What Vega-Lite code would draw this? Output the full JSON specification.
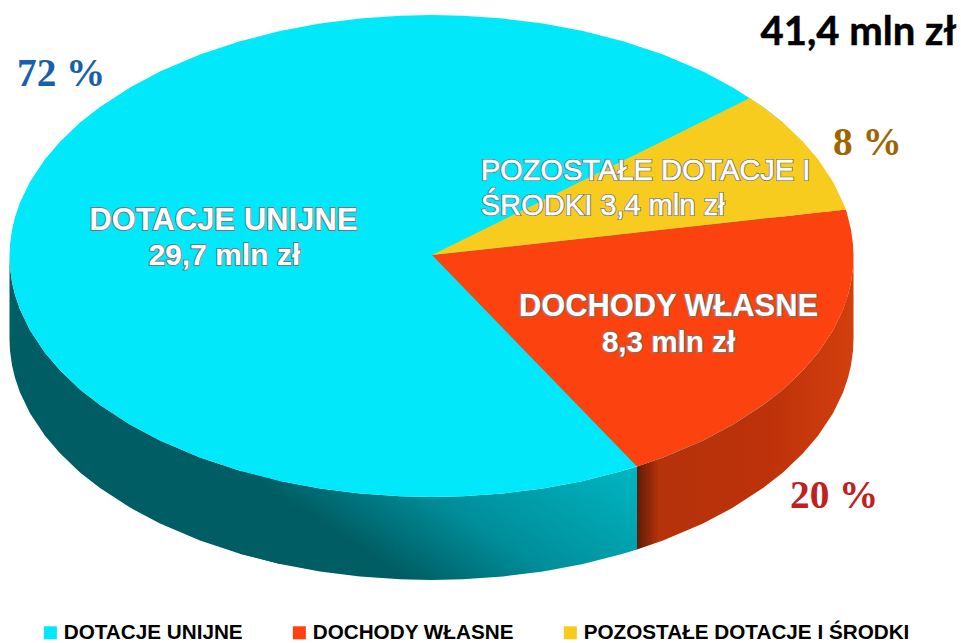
{
"$schema":"https://vega.github.io/schema/vega-lite/v6.json",
"width":961,"height":643,"padding":0,
"autosize":{"type":"fit","contains":"padding"},
"background":"white",
"config":{"view":{"stroke":null}},
"datasets":{
"wall_c1":[{"x":9.5,"y":256,"y2":339},{"x":10,"y":267.7,"y2":350.7},{"x":12,"y":282.2,"y2":365.2},{"x":15,"y":294.8,"y2":377.8},{"x":20,"y":309.4,"y2":392.4},{"x":30,"y":330.2,"y2":413.2},{"x":45,"y":352.8,"y2":435.8},{"x":60,"y":370.3,"y2":453.3},{"x":80,"y":389.4,"y2":472.4},{"x":100,"y":405.1,"y2":488.1},{"x":130,"y":424.6,"y2":507.6},{"x":160,"y":440.5,"y2":523.5},{"x":200,"y":457.5,"y2":540.5},{"x":240,"y":470.8,"y2":553.8},{"x":280,"y":480.9,"y2":563.9}],
"wall_c2":[{"x":240,"y":470.8,"y2":553.8},{"x":280,"y":480.9,"y2":563.9},{"x":320,"y":488.4,"y2":571.4},{"x":360,"y":493.5,"y2":576.5},{"x":400,"y":496.3,"y2":579.3},{"x":431.5,"y":497,"y2":580},{"x":463,"y":496.3,"y2":579.3},{"x":503,"y":493.5,"y2":576.5},{"x":543,"y":488.4,"y2":571.4},{"x":583,"y":480.9,"y2":563.9},{"x":623,"y":470.8,"y2":553.8},{"x":637,"y":466.5,"y2":549.5}],
"wall_r":[{"x":637,"y":466.5,"y2":549.5},{"x":663,"y":457.5,"y2":540.5},{"x":703,"y":440.5,"y2":523.5},{"x":733,"y":424.6,"y2":507.6},{"x":763,"y":405.1,"y2":488.1},{"x":783,"y":389.4,"y2":472.4},{"x":803,"y":370.3,"y2":453.3},{"x":818,"y":352.8,"y2":435.8},{"x":833,"y":330.2,"y2":413.2},{"x":843,"y":309.4,"y2":392.4},{"x":848,"y":294.8,"y2":377.8},{"x":851,"y":282.2,"y2":365.2},{"x":853,"y":267.7,"y2":350.7},{"x":853.5,"y":256,"y2":339}],
"top_c":[{"s":"DOTACJE UNIJNE","x":9.5,"y":256,"y2":256},{"s":"DOTACJE UNIJNE","x":10,"y":244.3,"y2":267.7},{"s":"DOTACJE UNIJNE","x":12,"y":229.8,"y2":282.2},{"s":"DOTACJE UNIJNE","x":15,"y":217.2,"y2":294.8},{"s":"DOTACJE UNIJNE","x":20,"y":202.6,"y2":309.4},{"s":"DOTACJE UNIJNE","x":30,"y":181.8,"y2":330.2},{"s":"DOTACJE UNIJNE","x":45,"y":159.2,"y2":352.8},{"s":"DOTACJE UNIJNE","x":60,"y":141.7,"y2":370.3},{"s":"DOTACJE UNIJNE","x":80,"y":122.6,"y2":389.4},{"s":"DOTACJE UNIJNE","x":100,"y":106.9,"y2":405.1},{"s":"DOTACJE UNIJNE","x":130,"y":87.4,"y2":424.6},{"s":"DOTACJE UNIJNE","x":160,"y":71.5,"y2":440.5},{"s":"DOTACJE UNIJNE","x":200,"y":54.5,"y2":457.5},{"s":"DOTACJE UNIJNE","x":240,"y":41.2,"y2":470.8},{"s":"DOTACJE UNIJNE","x":280,"y":31.1,"y2":480.9},{"s":"DOTACJE UNIJNE","x":320,"y":23.6,"y2":488.4},{"s":"DOTACJE UNIJNE","x":360,"y":18.5,"y2":493.5},{"s":"DOTACJE UNIJNE","x":400,"y":15.7,"y2":496.3},{"s":"DOTACJE UNIJNE","x":431.5,"y":15,"y2":497},{"s":"DOTACJE UNIJNE","x":463,"y":15.7,"y2":496.3},{"s":"DOTACJE UNIJNE","x":503,"y":18.5,"y2":493.5},{"s":"DOTACJE UNIJNE","x":543,"y":23.6,"y2":488.4},{"s":"DOTACJE UNIJNE","x":583,"y":31.1,"y2":480.9},{"s":"DOTACJE UNIJNE","x":623,"y":41.2,"y2":470.8},{"s":"DOTACJE UNIJNE","x":663,"y":54.5,"y2":457.5},{"s":"DOTACJE UNIJNE","x":703,"y":71.5,"y2":440.5},{"s":"DOTACJE UNIJNE","x":733,"y":87.4,"y2":424.6},{"s":"DOTACJE UNIJNE","x":763,"y":106.9,"y2":405.1},{"s":"DOTACJE UNIJNE","x":783,"y":122.6,"y2":389.4}],
"top_r":[{"s":"DOCHODY WŁASNE","x":432,"y":255,"y2":255},{"s":"DOCHODY WŁASNE","x":637,"y":232.5,"y2":466.5},{"s":"DOCHODY WŁASNE","x":663,"y":229.6,"y2":457.5},{"s":"DOCHODY WŁASNE","x":703,"y":225.2,"y2":440.5},{"s":"DOCHODY WŁASNE","x":733,"y":221.9,"y2":424.6},{"s":"DOCHODY WŁASNE","x":763,"y":218.6,"y2":405.1},{"s":"DOCHODY WŁASNE","x":783,"y":216.4,"y2":389.4},{"s":"DOCHODY WŁASNE","x":803,"y":214.2,"y2":370.3},{"s":"DOCHODY WŁASNE","x":818,"y":212.6,"y2":352.8},{"s":"DOCHODY WŁASNE","x":833,"y":210.9,"y2":330.2},{"s":"DOCHODY WŁASNE","x":843,"y":209.8,"y2":309.4},{"s":"DOCHODY WŁASNE","x":846,"y":209.5,"y2":301.2},{"s":"DOCHODY WŁASNE","x":848,"y":217.2,"y2":294.8},{"s":"DOCHODY WŁASNE","x":851,"y":229.8,"y2":282.2},{"s":"DOCHODY WŁASNE","x":853,"y":244.3,"y2":267.7},{"s":"DOCHODY WŁASNE","x":853.5,"y":256,"y2":256}],
"top_y":[{"s":"POZOSTAŁE DOTACJE I ŚRODKI","x":432,"y":255,"y2":255},{"s":"POZOSTAŁE DOTACJE I ŚRODKI","x":750,"y":97.9,"y2":220.1},{"s":"POZOSTAŁE DOTACJE I ŚRODKI","x":763,"y":106.9,"y2":218.6},{"s":"POZOSTAŁE DOTACJE I ŚRODKI","x":783,"y":122.6,"y2":216.4},{"s":"POZOSTAŁE DOTACJE I ŚRODKI","x":803,"y":141.7,"y2":214.2},{"s":"POZOSTAŁE DOTACJE I ŚRODKI","x":818,"y":159.2,"y2":212.6},{"s":"POZOSTAŁE DOTACJE I ŚRODKI","x":833,"y":181.8,"y2":210.9},{"s":"POZOSTAŁE DOTACJE I ŚRODKI","x":843,"y":202.6,"y2":209.8},{"s":"POZOSTAŁE DOTACJE I ŚRODKI","x":846,"y":209.5,"y2":209.5}],
"lab_c1":[{"t":"DOTACJE UNIJNE","x":223.5,"y":230}],
"lab_c2":[{"t":"29,7 mln zł","x":224.5,"y":265}],
"lab_r1":[{"t":"DOCHODY WŁASNE","x":668.5,"y":316}],
"lab_r2":[{"t":"8,3 mln zł","x":668.5,"y":352}],
"lab_yel":[{"t":"POZOSTAŁE DOTACJE I","x":481,"y":180},{"t":"ŚRODKI 3,4 mln zł","x":481,"y":215}]
},
"layer":[
{"data":{"name":"wall_c1"},"mark":{"type":"area","color":"#005d63"},
 "encoding":{"x":{"field":"x","type":"quantitative","scale":{"domain":[0,961],"nice":false,"zero":false},"axis":null},"y":{"field":"y","type":"quantitative","scale":{"domain":[643,0],"nice":false,"zero":false},"axis":null},"y2":{"field":"y2"}}},
{"data":{"name":"wall_c2"},"mark":{"type":"area","color":{"gradient":"linear","x1":0,"y1":0.03,"x2":0.856,"y2":-0.345,"stops":[{"offset":0,"color":"#005d63"},{"offset":0.18,"color":"#00747d"},{"offset":0.38,"color":"#008e9a"},{"offset":0.68,"color":"#00a2ae"},{"offset":0.97,"color":"#00b5c2"}]}},
 "encoding":{"x":{"field":"x","type":"quantitative"},"y":{"field":"y","type":"quantitative"},"y2":{"field":"y2"}}},
{"data":{"name":"wall_r"},"mark":{"type":"area","color":{"gradient":"linear","x1":0,"y1":0,"x2":1,"y2":0,"stops":[{"offset":0,"color":"#5e1c08"},{"offset":0.1,"color":"#b5320a"},{"offset":0.6,"color":"#bd320a"},{"offset":1,"color":"#d33f0e"}]}},
 "encoding":{"x":{"field":"x","type":"quantitative"},"y":{"field":"y","type":"quantitative"},"y2":{"field":"y2"}}},
{"data":{"name":"top_c"},"mark":{"type":"area"},
 "encoding":{"x":{"field":"x","type":"quantitative"},"y":{"field":"y","type":"quantitative"},"y2":{"field":"y2"},
 "color":{"field":"s","type":"nominal","scale":{"domain":["DOTACJE UNIJNE","DOCHODY WŁASNE","POZOSTAŁE DOTACJE I ŚRODKI"],"range":["#00e8fa","#fc420e","#f8cc1f"]},
 "legend":{"title":null,"orient":"none","legendX":40,"legendY":622,"direction":"horizontal","columns":3,"columnPadding":46,"symbolType":"square","symbolSize":170,"symbolStrokeWidth":0,"symbolOpacity":1,"labelFont":"Liberation Sans","labelFontWeight":"bold","labelFontSize":20.7,"labelColor":"#000000","labelOffset":3,"labelLimit":500}}}},
{"data":{"name":"top_r"},"mark":{"type":"area"},
 "encoding":{"x":{"field":"x","type":"quantitative"},"y":{"field":"y","type":"quantitative"},"y2":{"field":"y2"},"color":{"field":"s","type":"nominal"}}},
{"data":{"name":"top_y"},"mark":{"type":"area"},
 "encoding":{"x":{"field":"x","type":"quantitative"},"y":{"field":"y","type":"quantitative"},"y2":{"field":"y2"},"color":{"field":"s","type":"nominal"}}},
{"data":{"name":"lab_c1"},"mark":{"type":"text","font":"Liberation Sans","fontWeight":"bold","fontSize":31,"align":"center","baseline":"alphabetic","fill":"#777777","stroke":"#777777","strokeWidth":1.8},
 "encoding":{"x":{"field":"x","type":"quantitative"},"y":{"field":"y","type":"quantitative"},"text":{"field":"t"}}},
{"data":{"name":"lab_c1"},"mark":{"type":"text","font":"Liberation Sans","fontWeight":"bold","fontSize":31,"align":"center","baseline":"alphabetic","fill":"#ffffff"},
 "encoding":{"x":{"field":"x","type":"quantitative"},"y":{"field":"y","type":"quantitative"},"text":{"field":"t"}}},
{"data":{"name":"lab_c2"},"mark":{"type":"text","font":"Liberation Sans","fontWeight":"bold","fontSize":30,"align":"center","baseline":"alphabetic","fill":"#777777","stroke":"#777777","strokeWidth":1.8},
 "encoding":{"x":{"field":"x","type":"quantitative"},"y":{"field":"y","type":"quantitative"},"text":{"field":"t"}}},
{"data":{"name":"lab_c2"},"mark":{"type":"text","font":"Liberation Sans","fontWeight":"bold","fontSize":30,"align":"center","baseline":"alphabetic","fill":"#ffffff"},
 "encoding":{"x":{"field":"x","type":"quantitative"},"y":{"field":"y","type":"quantitative"},"text":{"field":"t"}}},
{"data":{"name":"lab_r1"},"mark":{"type":"text","font":"Liberation Sans","fontWeight":"bold","fontSize":30.8,"align":"center","baseline":"alphabetic","fill":"#777777","stroke":"#777777","strokeWidth":1.8},
 "encoding":{"x":{"field":"x","type":"quantitative"},"y":{"field":"y","type":"quantitative"},"text":{"field":"t"}}},
{"data":{"name":"lab_r1"},"mark":{"type":"text","font":"Liberation Sans","fontWeight":"bold","fontSize":30.8,"align":"center","baseline":"alphabetic","fill":"#ffffff"},
 "encoding":{"x":{"field":"x","type":"quantitative"},"y":{"field":"y","type":"quantitative"},"text":{"field":"t"}}},
{"data":{"name":"lab_r2"},"mark":{"type":"text","font":"Liberation Sans","fontWeight":"bold","fontSize":29.6,"align":"center","baseline":"alphabetic","fill":"#777777","stroke":"#777777","strokeWidth":1.8},
 "encoding":{"x":{"field":"x","type":"quantitative"},"y":{"field":"y","type":"quantitative"},"text":{"field":"t"}}},
{"data":{"name":"lab_r2"},"mark":{"type":"text","font":"Liberation Sans","fontWeight":"bold","fontSize":29.6,"align":"center","baseline":"alphabetic","fill":"#ffffff"},
 "encoding":{"x":{"field":"x","type":"quantitative"},"y":{"field":"y","type":"quantitative"},"text":{"field":"t"}}},
{"data":{"name":"lab_yel"},"mark":{"type":"text","font":"Liberation Sans","fontSize":29,"align":"left","baseline":"alphabetic","fill":"#777777","stroke":"#777777","strokeWidth":2.2},
 "encoding":{"x":{"field":"x","type":"quantitative"},"y":{"field":"y","type":"quantitative"},"text":{"field":"t"}}},
{"data":{"name":"lab_yel"},"mark":{"type":"text","font":"Liberation Sans","fontSize":29,"align":"left","baseline":"alphabetic","fill":"#ffffff","stroke":"#ffffff","strokeWidth":0.5},
 "encoding":{"x":{"field":"x","type":"quantitative"},"y":{"field":"y","type":"quantitative"},"text":{"field":"t"}}},
{"data":{"values":[{"t":"41,4 mln zł","x":956.5,"y":45}]},"mark":{"type":"text","font":"Lato","fontWeight":"bold","fontSize":40,"align":"right","baseline":"alphabetic","fill":"#000000","stroke":"#000000","strokeWidth":0.5},
 "encoding":{"x":{"field":"x","type":"quantitative"},"y":{"field":"y","type":"quantitative"},"text":{"field":"t"}}},
{"data":{"values":[{"t":"72 %","x":17,"y":86,"c":"blue"},{"t":"8 %","x":833,"y":155,"c":"brown"},{"t":"20 %","x":790,"y":508,"c":"red"}]},"mark":{"type":"text","font":"Liberation Serif","fontWeight":"bold","fontSize":39.3,"align":"left","baseline":"alphabetic"},
 "encoding":{"x":{"field":"x","type":"quantitative"},"y":{"field":"y","type":"quantitative"},"text":{"field":"t"},"fill":{"field":"c","type":"nominal","scale":{"domain":["blue","brown","red"],"range":["#1860ac","#9e6500","#c02020"]},"legend":null}}}
]
}
